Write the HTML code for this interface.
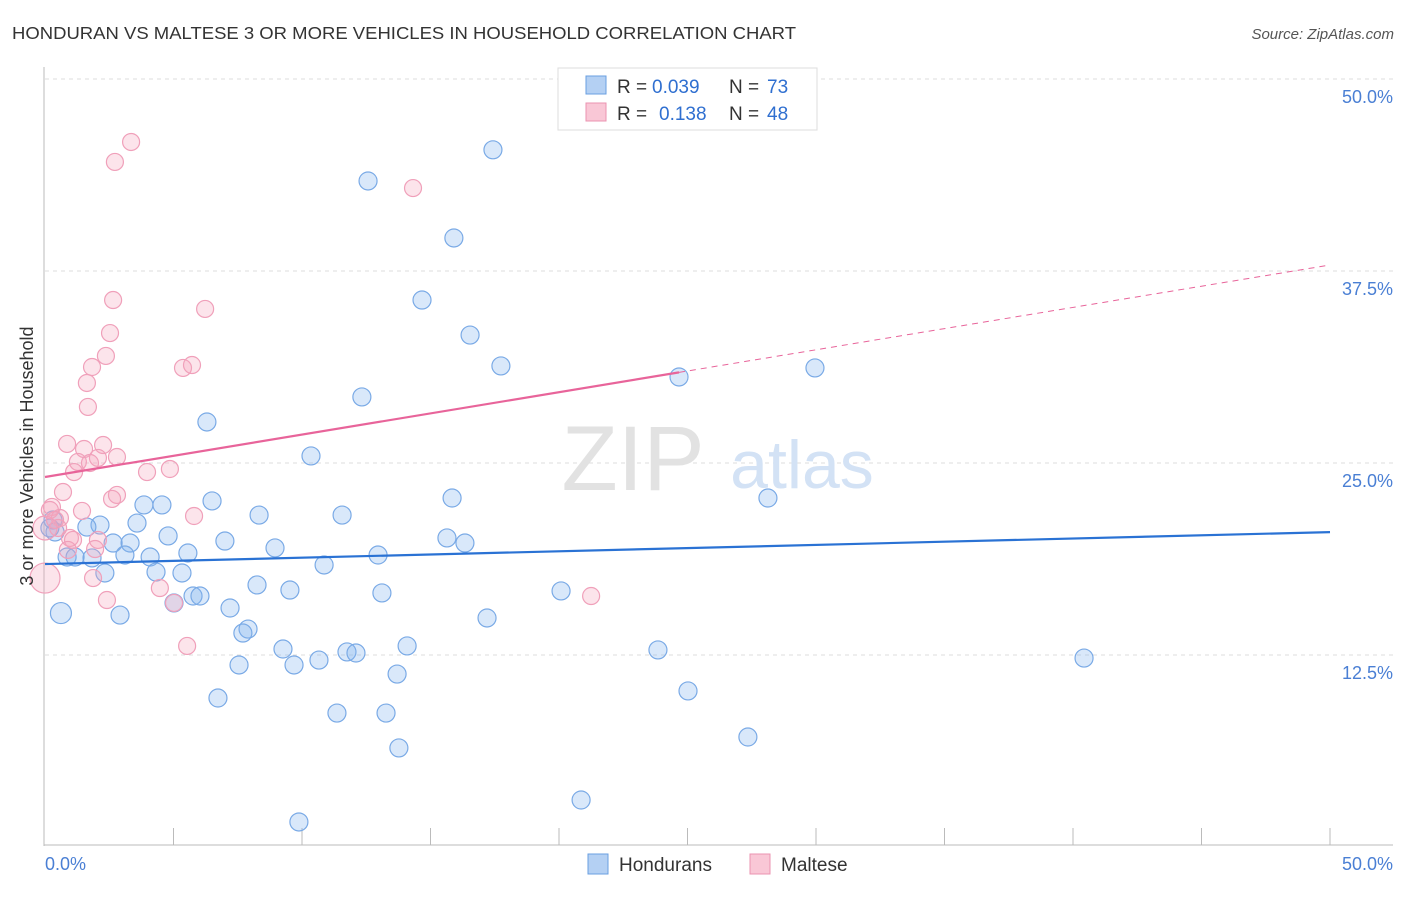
<!DOCTYPE html>
<html><head><meta charset="utf-8"><style>
body{margin:0;background:#fff;font-family:"Liberation Sans",sans-serif;}
svg text{font-family:"Liberation Sans",sans-serif;}
</style></head><body>
<svg id="chart" width="1406" height="892" xmlns="http://www.w3.org/2000/svg">
<text x="12" y="39" font-size="17.5" fill="#333" textLength="784" lengthAdjust="spacingAndGlyphs">HONDURAN VS MALTESE 3 OR MORE VEHICLES IN HOUSEHOLD CORRELATION CHART</text>
<text x="1394" y="39" font-size="15" fill="#555" font-style="italic" text-anchor="end">Source: ZipAtlas.com</text>
<g id="grid"></g>
<g><text x="633" y="490" font-size="92" fill="#e2e2e2" font-family="Liberation Serif" text-anchor="middle">ZIP</text><text x="802" y="488" font-size="68" fill="#d3e2f5" text-anchor="middle">atlas</text></g>
<g id="axes"></g>
<g id="pts"></g>
<g id="lines"></g>
<text x="33" y="456" font-size="18" fill="#333" text-anchor="middle" transform="rotate(-90 33 456)">3 or more Vehicles in Household</text>
<text x="45" y="870" font-size="18" fill="#4a7fd4">0.0%</text>
<text x="1393" y="870" font-size="18" fill="#4a7fd4" text-anchor="end">50.0%</text>
<g>
<rect x="558" y="68" width="259" height="62" fill="#fff" stroke="#ddd"/>
<rect x="586" y="76" width="20" height="18" fill="#b4d0f3" stroke="#6a9fe0"/>
<rect x="586" y="103" width="20" height="18" fill="#f9c7d6" stroke="#eb93b0"/>
<text x="617" y="93" font-size="19" fill="#333">R =</text>
<text x="652" y="93" font-size="19" fill="#2f6fd0">0.039</text>
<text x="729" y="93" font-size="19" fill="#333">N =</text>
<text x="767" y="93" font-size="19" fill="#2f6fd0">73</text>
<text x="617" y="120" font-size="19" fill="#333">R =</text>
<text x="659" y="120" font-size="19" fill="#2f6fd0">0.138</text>
<text x="729" y="120" font-size="19" fill="#333">N =</text>
<text x="767" y="120" font-size="19" fill="#2f6fd0">48</text>
</g>
<g>
<rect x="588" y="854" width="20" height="20" fill="#b4d0f3" stroke="#6a9fe0"/>
<text x="619" y="871" font-size="19" fill="#333">Hondurans</text>
<rect x="750" y="854" width="20" height="20" fill="#f9c7d6" stroke="#eb93b0"/>
<text x="781" y="871" font-size="19" fill="#333">Maltese</text>
</g>
</svg>
<script>
const yTicks=[12.5,25,37.5,50];
const yTickLabels=["12.5%","25.0%","37.5%","50.0%"];
const xTicks=[5,10,15,20,25,30,35,40,45,50];
const blueX=[17.43,12.57,15.91,14.67,16.54,17.74,29.96,24.67,12.33,6.3,10.35,15.84,28.13,3.85,4.55,6.5,8.33,11.56,3.58,2.14,1.63,0.31,0.39,4.79,15.64,16.34,7.0,2.65,3.31,8.95,5.56,12.96,3.11,4.09,0.86,1.17,1.83,10.86,2.33,4.32,5.33,8.25,9.53,13.11,20.08,5.76,6.03,5.02,7.2,0.62,2.92,17.2,7.9,7.7,9.26,14.09,11.75,12.1,23.85,9.69,10.66,7.55,13.7,40.43,25.02,6.73,11.36,13.27,27.35,13.77,20.86,9.88,0.19];
const blueY=[45.39,43.36,39.65,35.61,33.33,31.32,31.19,30.6,29.3,27.67,25.46,22.72,22.72,22.27,22.27,22.53,21.61,21.61,21.09,20.96,20.83,21.29,20.51,20.25,20.12,19.79,19.92,19.79,19.79,19.47,19.14,19.01,19.01,18.88,18.88,18.88,18.82,18.36,17.84,17.9,17.84,17.06,16.73,16.54,16.67,16.34,16.34,15.89,15.56,15.23,15.1,14.91,14.19,13.93,12.89,13.09,12.7,12.63,12.83,11.85,12.17,11.85,11.26,12.3,10.16,9.7,8.72,8.72,7.16,6.45,3.06,1.63,20.77];
const pinkX=[3.35,2.72,14.32,2.65,6.23,2.53,2.37,1.83,5.37,5.72,1.63,1.67,0.86,2.26,1.52,2.8,2.06,1.28,1.75,1.13,3.97,4.86,0.7,2.8,2.61,1.44,5.8,0.27,0.58,0.97,1.09,2.06,0.51,0,0,1.95,0.89,4.47,1.87,2.41,5.02,5.53,21.25,0.19,0.39];
const pinkY=[45.9,44.6,42.9,35.61,35.03,33.46,31.97,31.25,31.19,31.38,30.21,28.65,26.24,26.17,25.91,25.39,25.33,25.07,25.0,24.41,24.41,24.61,23.11,22.92,22.66,21.88,21.55,22.14,21.42,20.12,19.99,19.99,20.77,20.77,17.51,19.4,19.34,16.86,17.51,16.08,15.89,13.09,16.34,21.94,21.29];
const blueTrend=[18.42,20.5];
const pinkTrend=[24.09,37.89];
const pinkSolidEnd=24.67;
const NS="http://www.w3.org/2000/svg";
const sx=v=>45+v*25.7, sy=v=>847-v*15.36;
function mk(tag,attrs,parent){const e=document.createElementNS(NS,tag);for(const k in attrs)e.setAttribute(k,attrs[k]);parent.appendChild(e);return e;}
const grid=document.getElementById('grid'),axes=document.getElementById('axes');
yTicks.forEach((t,i)=>{
 const l=mk('line',{x1:45,x2:1393,y1:sy(t),y2:sy(t),stroke:'#ddd','stroke-dasharray':'4,4'},grid);
 
 
 const tx=mk('text',{x:1393,y:sy(t)+24,'font-size':18,fill:'#4a7fd4','text-anchor':'end'},axes);
 tx.textContent=yTickLabels[i];
 
 
});
mk('line',{x1:44,x2:44,y1:67,y2:846,stroke:'#bbb'},axes);
mk('line',{x1:44,x2:1393,y1:845,y2:845,stroke:'#bbb'},axes);
xTicks.forEach(t=>{
 const l=mk('line',{x1:sx(t),x2:sx(t),y1:828,y2:845,stroke:'#bbb'},axes);
 
 
});
const pts=document.getElementById('pts');
blueX.forEach((x,i)=>{
 const c=mk('circle',{cx:sx(x),cy:sy(blueY[i]),r:(i==49?10.5:9),fill:'rgba(130,180,240,0.3)',stroke:'#7aaae6','stroke-width':1.2},pts);
 
 
});
pinkX.forEach((x,i)=>{
 const c=mk('circle',{cx:sx(x),cy:sy(pinkY[i]),r:(i==34?15:(i==33?12:8.5)),fill:'rgba(245,165,190,0.3)',stroke:'#f0a0ba','stroke-width':1.2},pts);
 
 
});
const lines=document.getElementById('lines');
const bl=mk('line',{x1:sx(0),y1:sy(blueTrend[0]),x2:sx(50),y2:sy(blueTrend[1]),stroke:'#2a72d4','stroke-width':2.2},lines);


const pAt=x=>pinkTrend[0]+(pinkTrend[1]-pinkTrend[0])*x/50;
const pl=mk('line',{x1:sx(0),y1:sy(pinkTrend[0]),x2:sx(pinkSolidEnd),y2:sy(pAt(pinkSolidEnd)),stroke:'#e8649a','stroke-width':2.2},lines);


const pd=mk('line',{x1:sx(pinkSolidEnd),y1:sy(pAt(pinkSolidEnd)),x2:sx(50),y2:sy(pinkTrend[1]),stroke:'#e8649a','stroke-width':1,'stroke-dasharray':'6,5'},lines);


</script>
</body></html>
